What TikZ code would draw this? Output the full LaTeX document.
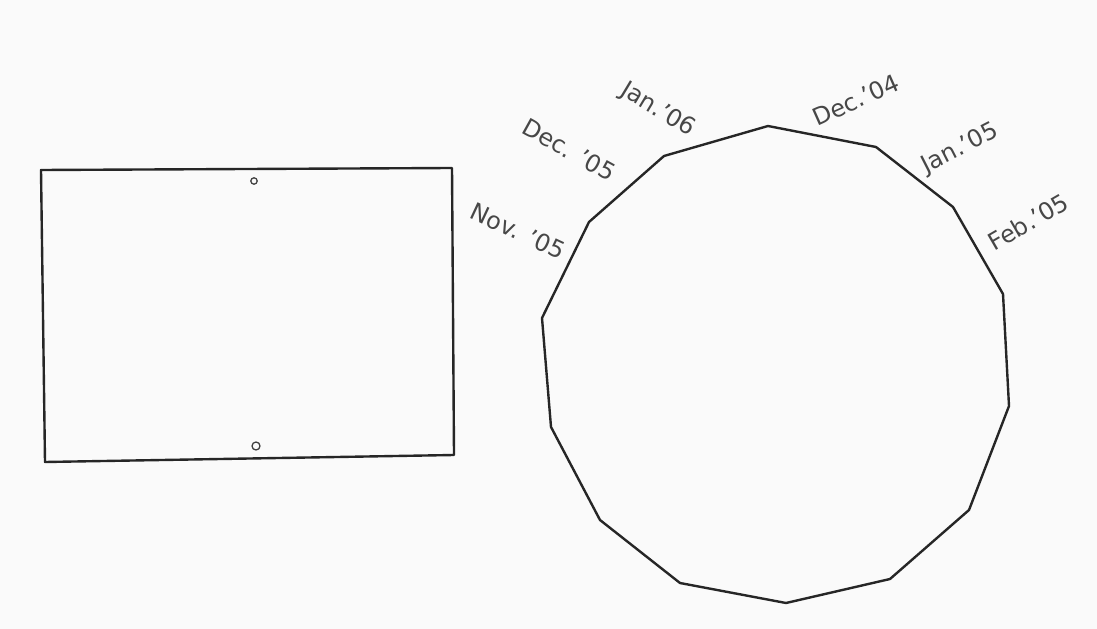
\documentclass[tikz,border=0pt]{standalone}
\usepackage{fontspec}
\setmainfont{DejaVu Sans}
\begin{document}
\begin{tikzpicture}[x=0.025cm, y=-0.025cm, every node/.style={font=\fontsize{17}{19}\selectfont\color{black!72}},
  edge/.style={draw=black!85,line width=1.7pt,line join=round},
  hole/.style={draw=black!75,line width=0.9pt},
  month/.style={inner sep=0pt}]
\useasboundingbox[fill=black!2] (0,0) rectangle (1097,629);
% plate
\coordinate (p1) at (41,170);
\coordinate (p2) at (452,168);
\coordinate (p3) at (454,455);
\coordinate (p4) at (45,462);
\draw[edge] (p1) -- (p2) -- (p3) -- (p4) -- cycle;
\draw[hole] (254,181) circle (3.2);
\draw[hole] (256,446) circle (4);
% orbit
\coordinate (v1) at (768,126);
\coordinate (v2) at (876,147);
\coordinate (v3) at (953,207);
\coordinate (v4) at (1003,294);
\coordinate (v5) at (1009,406);
\coordinate (v6) at (969,510);
\coordinate (v7) at (890,579);
\coordinate (v8) at (786,603);
\coordinate (v9) at (680,583);
\coordinate (v10) at (600,520);
\coordinate (v11) at (551,427);
\coordinate (v12) at (542,318);
\coordinate (v13) at (589,222);
\coordinate (v14) at (664,156);
\draw[edge] (v1) \foreach \i in {2,...,14} {-- (v\i)} -- cycle;
% months
\node[month,rotate=-31] (jan06) at (658,110) {Jan.'06};
\node[month,rotate=-29] (dec05) at (569,150) {Dec. '05};
\node[month,rotate=-25] (nov05) at (518,231) {Nov. '05};
\node[month,rotate=24] (dec04) at (856,100) {Dec.'04};
\node[month,rotate=27] (jan05) at (960,149) {Jan.'05};
\node[month,rotate=30] (feb05) at (1028,222) {Feb.'05};
\end{tikzpicture}
\end{document}
